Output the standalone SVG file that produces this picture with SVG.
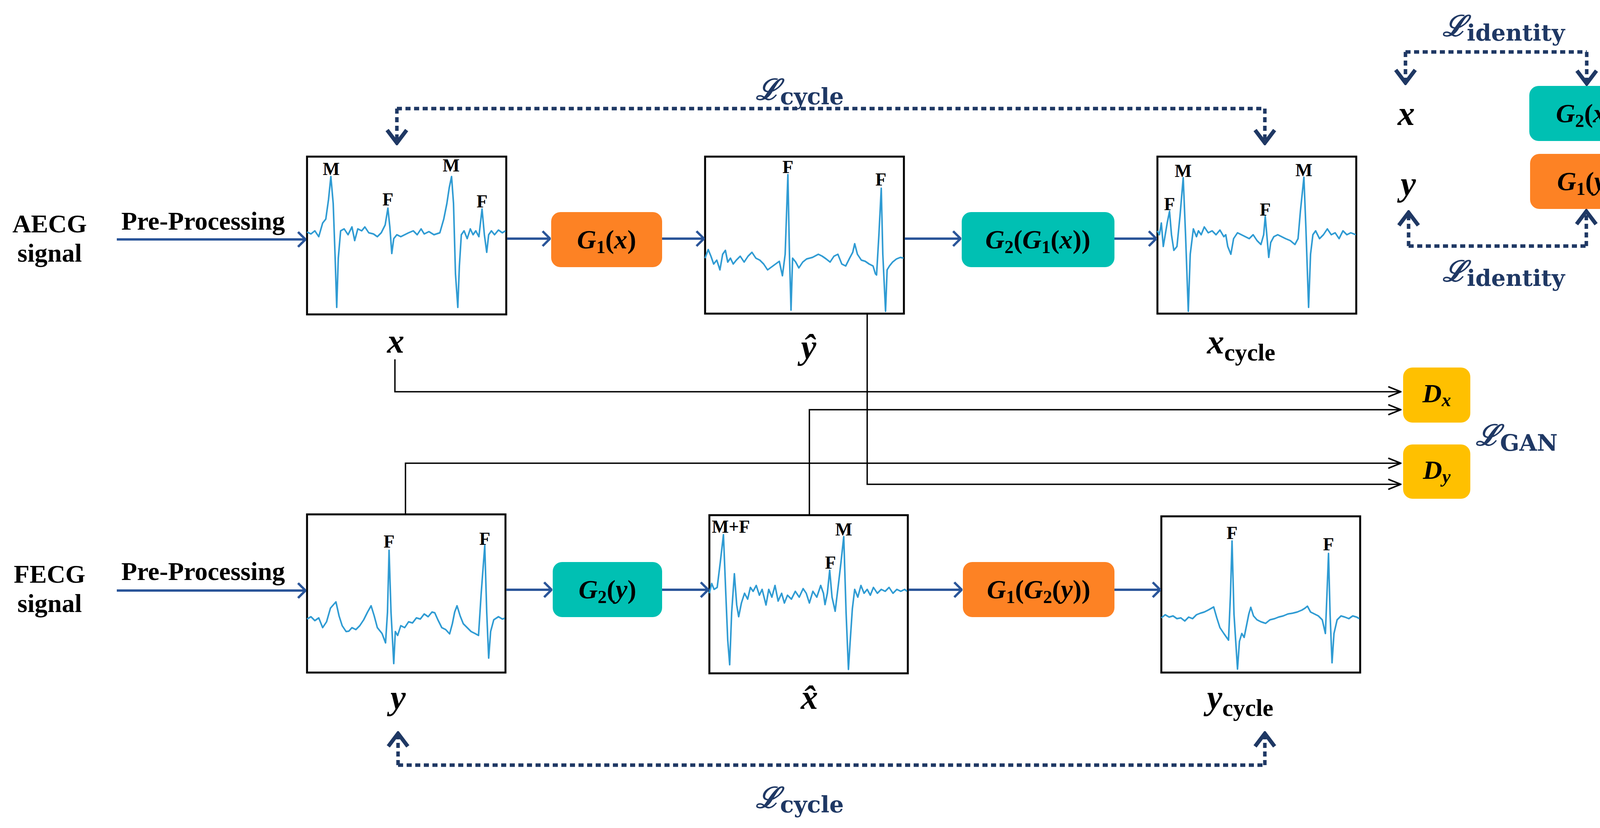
<svg xmlns="http://www.w3.org/2000/svg" width="4226" height="2120" viewBox="0 0 4226 2120">
<style>
.box{fill:#fff;stroke:#000;stroke-width:5}
.wave{fill:none;stroke:#2f9bd3;stroke-width:4;stroke-linejoin:round}
.pk{font-family:"Liberation Serif",serif;font-weight:bold;font-size:46px;fill:#000;text-anchor:middle}
.lbl{font-family:"Liberation Serif",serif;font-weight:bold;font-size:66px;fill:#000;text-anchor:middle}
.math{font-family:"Liberation Serif",serif;font-weight:bold;font-style:italic;font-size:88px;fill:#000}
.sub{font-family:"Liberation Serif",serif;font-weight:bold;font-style:normal;font-size:62px}
.g{font-family:"Liberation Serif",serif;font-weight:bold;font-size:68px;fill:#000;text-anchor:middle}
.loss{font-family:"DejaVu Serif","Liberation Serif",serif;font-weight:bold;fill:#1f3864}
.blue{fill:none;stroke:#2a5599;stroke-width:6}
.dot{fill:none;stroke:#1f3864;stroke-width:9;stroke-dasharray:13 9}
.blk{fill:none;stroke:#000;stroke-width:3.5}
.or{fill:#fd8224}.te{fill:#00c0b3}.ye{fill:#ffc000}
</style>
<defs>
<marker id="ab" viewBox="0 0 24 44" refX="22" refY="22" markerWidth="24" markerHeight="44" markerUnits="userSpaceOnUse" orient="auto"><path d="M3,3 L22,22 L3,41" fill="none" stroke="#2a5599" stroke-width="6"/></marker>
<marker id="ad" viewBox="0 0 44 60" refX="40" refY="30" markerWidth="44" markerHeight="60" markerUnits="userSpaceOnUse" orient="auto"><path d="M5,5 L38,30 L5,55" fill="none" stroke="#1f3864" stroke-width="10"/></marker>
<marker id="ak" viewBox="0 0 36 30" refX="34" refY="15" markerWidth="36" markerHeight="30" markerUnits="userSpaceOnUse" orient="auto"><path d="M2,2 L34,15 L2,28" fill="none" stroke="#000" stroke-width="4"/></marker>
</defs>

<g id="inputs">
<text class="lbl" x="127" y="595">AECG</text><text class="lbl" x="127" y="670">signal</text>
<text class="lbl" x="520" y="588">Pre-Processing</text>
<text class="lbl" x="127" y="1492">FECG</text><text class="lbl" x="127" y="1567">signal</text>
<text class="lbl" x="520" y="1485">Pre-Processing</text>
</g>

<g id="box-x" transform="translate(786,401)">
<rect class="box" width="510" height="404"/>
<polyline class="wave" points="0,193 10,198 20,190 30,205 40,170 48,160 55,110 61,51 67,120 72,260 76,386 80,260 86,190 95,185 105,200 115,180 122,215 130,185 140,190 148,180 158,195 170,198 180,205 190,195 200,175 207,132 212,180 217,248 222,210 230,200 240,205 250,200 260,195 272,190 282,200 292,185 300,198 312,192 325,200 340,195 350,160 358,120 364,80 370,51 375,120 380,300 386,386 390,280 395,200 402,190 410,210 418,185 425,200 432,190 440,205 448,134 454,200 460,245 465,200 472,190 480,200 490,188 500,195 508,190"/>
<text class="pk" x="62" y="47">M</text><text class="pk" x="207" y="125">F</text><text class="pk" x="369" y="38">M</text><text class="pk" x="448" y="130">F</text>
</g>
<g id="box-yhat" transform="translate(1805,401)">
<rect class="box" width="509" height="402"/>
<polyline class="wave" points="0,260 8,238 15,255 22,275 30,265 38,290 45,250 52,240 58,270 65,260 72,275 80,265 90,255 100,270 110,255 120,245 130,260 140,265 150,275 160,290 190,268 198,305 205,250 212,46 216,250 220,393 224,260 232,270 240,285 250,270 260,262 275,258 290,250 300,255 310,262 320,270 330,255 340,250 350,275 360,280 370,260 378,245 383,223 390,250 400,265 410,268 420,275 430,280 436,300 439,303 445,200 451,81 455,250 462,396 466,290 472,280 480,270 490,262 500,258 508,260"/>
<text class="pk" x="212" y="42">F</text><text class="pk" x="450" y="74">F</text>
</g>
<g id="box-xcycle" transform="translate(2963,401)">
<rect class="box" width="509" height="402"/>
<polyline class="wave" points="0,190 5,200 10,170 15,230 20,200 25,170 31,140 36,200 42,240 50,230 58,150 66,54 72,200 79,396 84,250 92,185 100,205 105,190 112,200 120,180 130,195 140,190 150,200 160,188 170,205 175,200 180,230 188,250 195,210 205,195 215,200 225,205 235,210 245,200 255,215 265,225 272,200 276,153 280,200 285,258 290,220 298,205 308,200 318,205 328,210 340,215 352,225 360,210 366,140 375,53 380,180 387,386 392,250 398,200 405,190 415,210 425,200 435,185 445,200 455,195 465,210 475,190 485,200 495,195 508,200"/>
<text class="pk" x="31" y="137">F</text><text class="pk" x="66" y="52">M</text><text class="pk" x="276" y="151">F</text><text class="pk" x="375" y="50">M</text>
</g>
<g id="box-y" transform="translate(786,1317)">
<rect class="box" width="508" height="405"/>
<polyline class="wave" points="0,268 10,262 20,272 30,265 40,290 50,275 60,240 74,224 82,260 90,285 100,300 107,299 115,290 125,295 135,285 145,270 155,250 164,234 172,260 180,290 192,305 201,329 206,250 210,92 215,250 222,382 226,300 232,310 240,285 250,290 260,275 270,278 280,265 290,268 300,255 310,262 320,250 327,252 335,270 345,290 355,295 365,306 372,280 378,250 384,234 392,260 400,280 410,290 420,300 430,305 439,310 446,200 455,80 460,250 465,368 470,300 478,270 490,262 500,268 506,266"/>
<text class="pk" x="210" y="85">F</text><text class="pk" x="455" y="78">F</text>
</g>
<g id="box-xhat" transform="translate(1816,1319)">
<rect class="box" width="508" height="405"/>
<polyline class="wave" points="0,200 6,175 12,190 20,185 28,120 36,50 42,200 47,320 52,383 57,250 64,150 70,230 75,260 82,225 90,200 98,215 105,185 112,195 120,180 128,205 135,190 145,230 152,190 160,210 168,180 176,220 185,200 192,225 200,205 210,215 220,195 230,210 240,188 248,200 256,225 265,195 275,210 285,180 292,200 296,229 302,200 308,141 314,210 322,246 330,180 337,120 344,55 350,250 356,395 360,330 366,240 372,190 380,210 388,180 396,200 404,190 412,205 420,185 430,200 440,190 450,195 460,185 470,200 480,190 490,195 500,190 506,195"/>
<text class="pk" x="55" y="45">M+F</text><text class="pk" x="344" y="52">M</text><text class="pk" x="310" y="137">F</text>
</g>
<g id="box-ycycle" transform="translate(2973,1322)">
<rect class="box" width="509" height="400"/>
<polyline class="wave" points="0,260 10,252 20,258 30,255 40,262 50,260 60,268 70,258 80,262 90,252 100,248 110,245 120,240 134,232 142,260 150,285 160,300 172,317 177,200 181,63 186,250 195,391 200,320 206,300 212,310 218,280 224,250 229,233 236,255 245,265 255,270 267,274 278,265 290,262 300,258 312,255 324,250 336,248 348,245 360,240 368,235 374,230 382,245 392,250 402,255 412,265 420,300 424,200 428,95 432,250 437,375 442,300 450,265 460,255 470,258 480,262 490,255 500,258 507,262"/>
<text class="pk" x="181" y="58">F</text><text class="pk" x="428" y="87">F</text>
</g>

<g id="g1x"><rect class="or" x="1411" y="543" width="284" height="141" rx="24"/><text class="g" x="1553" y="636"><tspan font-style="italic">G</tspan><tspan font-size="46" dy="12">1</tspan><tspan dy="-12">(</tspan><tspan font-style="italic">x</tspan>)</text></g>
<g id="g2g1x"><rect class="te" x="2462" y="543" width="391" height="141" rx="24"/><text class="g" x="2657" y="636"><tspan font-style="italic">G</tspan><tspan font-size="46" dy="12">2</tspan><tspan dy="-12">(</tspan><tspan font-style="italic">G</tspan><tspan font-size="46" dy="12">1</tspan><tspan dy="-12">(</tspan><tspan font-style="italic">x</tspan>))</text></g>
<g id="g2y"><rect class="te" x="1415" y="1439" width="280" height="141" rx="24"/><text class="g" x="1555" y="1532"><tspan font-style="italic">G</tspan><tspan font-size="46" dy="12">2</tspan><tspan dy="-12">(</tspan><tspan font-style="italic">y</tspan>)</text></g>
<g id="g1g2y"><rect class="or" x="2465" y="1439" width="388" height="141" rx="24"/><text class="g" x="2659" y="1532"><tspan font-style="italic">G</tspan><tspan font-size="46" dy="12">1</tspan><tspan dy="-12">(</tspan><tspan font-style="italic">G</tspan><tspan font-size="46" dy="12">2</tspan><tspan dy="-12">(</tspan><tspan font-style="italic">y</tspan>))</text></g>
<g id="g2x"><rect class="te" x="3915" y="220" width="288" height="141" rx="24"/><text class="g" x="4059" y="313"><tspan font-style="italic">G</tspan><tspan font-size="46" dy="12">2</tspan><tspan dy="-12">(</tspan><tspan font-style="italic">x</tspan>)</text></g>
<g id="g1y"><rect class="or" x="3917" y="394" width="286" height="141" rx="24"/><text class="g" x="4060" y="487"><tspan font-style="italic">G</tspan><tspan font-size="46" dy="12">1</tspan><tspan dy="-12">(</tspan><tspan font-style="italic">y</tspan>)</text></g>
<g id="dx"><rect class="ye" x="3592" y="941" width="172" height="141" rx="24"/><text class="g" x="3678" y="1030"><tspan font-style="italic">D</tspan><tspan font-style="italic" font-size="48" dy="10">x</tspan></text></g>
<g id="dy"><rect class="ye" x="3592" y="1138" width="172" height="139" rx="24"/><text class="g" x="3678" y="1226"><tspan font-style="italic">D</tspan><tspan font-style="italic" font-size="48" dy="10">y</tspan></text></g>

<g id="labels">
<text class="math" x="1013" y="903" text-anchor="middle">x</text>
<text class="math" x="2070" y="918" text-anchor="middle">ŷ</text>
<text class="math" x="3090" y="905">x<tspan class="sub" dy="18">cycle</tspan></text>
<text class="math" x="1019" y="1815" text-anchor="middle">y</text>
<text class="math" x="2072" y="1815" text-anchor="middle">x̂</text>
<text class="math" x="3090" y="1815">y<tspan class="sub" dy="18">cycle</tspan></text>
<text class="math" x="3600" y="320" text-anchor="middle">x</text>
<text class="math" x="3605" y="500" text-anchor="middle">y</text>
<text class="loss" x="1935" y="255" font-size="74" font-style="italic">ℒ<tspan font-size="58" font-style="normal" dy="12">cycle</tspan></text>
<text class="loss" x="1935" y="2068" font-size="74" font-style="italic">ℒ<tspan font-size="58" font-style="normal" dy="12">cycle</tspan></text>
<text class="loss" x="3693" y="92" font-size="74" font-style="italic">ℒ<tspan font-size="58" font-style="normal" dy="12">identity</tspan></text>
<text class="loss" x="3693" y="720" font-size="74" font-style="italic">ℒ<tspan font-size="58" font-style="normal" dy="12">identity</tspan></text>
<text class="loss" x="3778" y="1140" font-size="74" font-style="italic">ℒ<tspan font-size="58" font-style="normal" dy="14">GAN</tspan></text>
</g>

<g id="connectors">
<path class="blue" marker-end="url(#ab)" d="M299,613 H782"/>
<path class="blue" marker-end="url(#ab)" d="M1298,611 H1408"/>
<path class="blue" marker-end="url(#ab)" d="M1695,611 H1802"/>
<path class="blue" marker-end="url(#ab)" d="M2316,611 H2459"/>
<path class="blue" marker-end="url(#ab)" d="M2853,611 H2960"/>
<path class="blue" marker-end="url(#ab)" d="M299,1512 H782"/>
<path class="blue" marker-end="url(#ab)" d="M1296,1510 H1412"/>
<path class="blue" marker-end="url(#ab)" d="M1695,1510 H1813"/>
<path class="blue" marker-end="url(#ab)" d="M2326,1510 H2462"/>
<path class="blue" marker-end="url(#ab)" d="M2853,1510 H2970"/>
<path class="dot" marker-end="url(#ad)" d="M1016,278 V368"/>
<path class="dot" d="M1016,278 H3238"/>
<path class="dot" marker-end="url(#ad)" d="M3238,278 V368"/>
<path class="dot" marker-end="url(#ad)" d="M1019,1959 V1876"/>
<path class="dot" d="M1019,1959 H3238"/>
<path class="dot" marker-end="url(#ad)" d="M3238,1959 V1876"/>
<path class="dot" marker-end="url(#ad)" d="M3598,133 V214"/>
<path class="dot" d="M3598,133 H4062"/>
<path class="dot" marker-end="url(#ad)" d="M4062,133 V216"/>
<path class="dot" marker-end="url(#ad)" d="M3606,630 V542"/>
<path class="dot" d="M3606,630 H4061"/>
<path class="dot" marker-end="url(#ad)" d="M4061,630 V539"/>
<path class="blk" marker-end="url(#ak)" d="M1011,920 V1003 H3586"/>
<path class="blk" marker-end="url(#ak)" d="M2072,1319 V1049 H3586"/>
<path class="blk" marker-end="url(#ak)" d="M1038,1317 V1186 H3586"/>
<path class="blk" marker-end="url(#ak)" d="M2220,803 V1240 H3586"/>
</g>
</svg>
